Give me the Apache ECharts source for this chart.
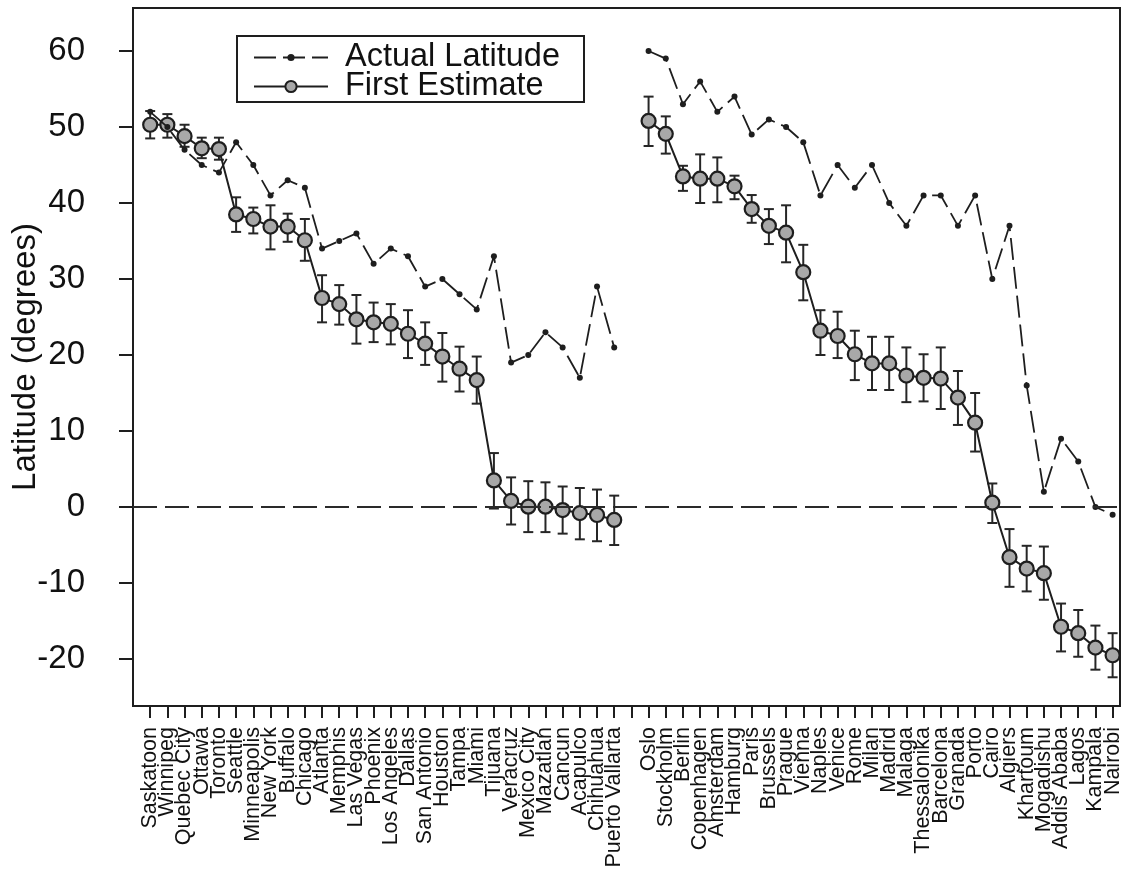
<!DOCTYPE html>
<html>
<head>
<meta charset="utf-8">
<script src="https://cdn.jsdelivr.net/npm/echarts@6/dist/echarts.min.js"></script>
<style>
  html, body { margin: 0; padding: 0; background: #fff; }
  #chart { width: 1122px; height: 873px; }
</style>
</head>
<body>
<div id="chart"></div>
<script>
// North American cities
const americasCities = ['Saskatoon', 'Winnipeg', 'Quebec City', 'Ottawa', 'Toronto', 'Seattle',
  'Minneapolis', 'New York', 'Buffalo', 'Chicago', 'Atlanta', 'Memphis', 'Las Vegas', 'Phoenix',
  'Los Angeles', 'Dallas', 'San Antonio', 'Houston', 'Tampa', 'Miami', 'Tijuana', 'Veracruz',
  'Mexico City', 'Mazatlan', 'Cancun', 'Acapulco', 'Chihuahua', 'Puerto Vallarta'];
const americasActual = [52, 50, 47, 45, 44, 48, 45, 41, 43, 42, 34, 35, 36, 32, 34, 33, 29, 30, 28, 26,
  33, 19, 20, 23, 21, 17, 29, 21];
const americasEstimate = [50.3, 50.3, 48.8, 47.2, 47.1, 38.5, 37.9, 36.9, 36.9, 35.1, 27.5, 26.7, 24.7,
  24.3, 24.1, 22.8, 21.5, 19.8, 18.2, 16.7, 3.5, 0.8, 0.05, 0.05, -0.4, -0.8, -1.05, -1.7];
const americasLow = [48.5, 48.6, 47.4, 45.9, 45.7, 36.2, 36.0, 33.9, 34.9, 32.4, 24.3, 24.0, 21.5, 21.7,
  21.4, 19.6, 18.7, 16.5, 15.2, 13.6, -0.2, -2.3, -3.3, -3.3, -3.5, -4.25, -4.5, -5.0];
const americasHigh = [52.1, 51.7, 50.3, 48.6, 48.6, 40.75, 39.4, 39.7, 38.6, 37.9, 30.5, 29.2, 27.9, 26.9,
  26.7, 25.9, 24.3, 22.9, 21.1, 19.8, 7.1, 3.9, 3.4, 3.25, 2.7, 2.5, 2.3, 1.5];

// European and African cities
const euroAfricaCities = ['Oslo', 'Stockholm', 'Berlin', 'Copenhagen', 'Amsterdam', 'Hamburg', 'Paris',
  'Brussels', 'Prague', 'Vienna', 'Naples', 'Venice', 'Rome', 'Milan', 'Madrid', 'Malaga',
  'Thessalonika', 'Barcelona', 'Granada', 'Porto', 'Cairo', 'Algiers', 'Khartoum', 'Mogadishu',
  'Addis Ababa', 'Lagos', 'Kampala', 'Nairobi'];
const euroAfricaActual = [60, 59, 53, 56, 52, 54, 49, 51, 50, 48, 41, 45, 42, 45, 40, 37, 41, 41, 37, 41,
  30, 37, 16, 2, 9, 6, 0, -1];
const euroAfricaEstimate = [50.8, 49.1, 43.5, 43.2, 43.2, 42.2, 39.2, 37.0, 36.1, 30.9, 23.2, 22.5, 20.1,
  18.9, 18.9, 17.3, 17.0, 16.9, 14.4, 11.1, 0.57, -6.6, -8.1, -8.7, -15.75, -16.6, -18.5, -19.5];
const euroAfricaLow = [47.5, 46.5, 41.6, 40.0, 40.1, 40.5, 37.4, 34.6, 32.2, 27.2, 20.0, 19.6, 16.7, 15.4,
  15.4, 13.8, 13.9, 12.9, 10.8, 7.3, -2.1, -10.5, -11.1, -12.2, -19.0, -19.7, -21.4, -22.4];
const euroAfricaHigh = [54.0, 51.4, 44.9, 46.4, 46.0, 43.6, 41.05, 39.2, 39.7, 34.5, 25.9, 25.7, 23.2, 22.4,
  22.4, 21.0, 20.1, 21.0, 17.9, 15.0, 3.1, -2.9, -5.1, -5.2, -12.7, -13.55, -15.6, -16.6];

const yTickValues = [-20, -10, 0, 10, 20, 30, 40, 50, 60];

// One empty slot separates the two city groups
const cities = americasCities.concat([''], euroAfricaCities);
const actual = americasActual.concat([null], euroAfricaActual);
const estimate = americasEstimate.concat([null], euroAfricaEstimate);
const low = americasLow.concat([null], euroAfricaLow);
const high = americasHigh.concat([null], euroAfricaHigh);

const X_MIN = -1;
const X_MAX = 56.43;
const xTickValues = cities.map((c, i) => i);
// blank labels at both ends keep the first and last city names from being dropped
const xLabelValues = [X_MIN].concat(xTickValues, [X_MAX]);

const toPairs = arr => arr.map((v, i) => [i, v == null ? '-' : v]);
const errorData = [];
low.forEach((lo, i) => { if (lo != null) errorData.push([i, lo, high[i]]); });

const FONT = "'Liberation Sans', Arial, Helvetica, sans-serif";
const INK = '#1e1e1e';

const chart = echarts.init(document.getElementById('chart'), null, { renderer: 'canvas' });

chart.setOption({
  animation: false,
  backgroundColor: '#ffffff',
  grid: {
    left: 133, right: 2, top: 8, bottom: 167,
    containLabel: false, outerBoundsMode: 'none',
    show: true, borderColor: INK, borderWidth: 2, backgroundColor: 'transparent'
  },
  legend: [
    {
      data: ['Actual Latitude'],
      left: 253, top: 41, padding: 0,
      itemWidth: 74, itemHeight: 9,
      textStyle: { fontFamily: FONT, fontSize: 32.5, color: '#111', padding: [0, 0, 0, 12] },
      selectedMode: false
    },
    {
      data: ['First Estimate'],
      left: 253, top: 70, padding: 0,
      itemWidth: 74, itemHeight: 14,
      textStyle: { fontFamily: FONT, fontSize: 32.5, color: '#111', padding: [0, 0, 0, 12] },
      selectedMode: false
    }
  ],
  graphic: [
    {
      type: 'rect', left: 236, top: 35, z: 10,
      shape: { width: 347, height: 66 },
      style: { fill: 'transparent', stroke: INK, lineWidth: 2 }
    }
  ],
  xAxis: {
    type: 'value', min: X_MIN, max: X_MAX,
    axisLine: { show: true, onZero: false, lineStyle: { color: INK, width: 2 } },
    axisTick: { show: true, customValues: xTickValues, length: 12, lineStyle: { color: INK, width: 2 } },
    axisLabel: {
      customValues: xLabelValues, rotate: 90, margin: 21,
      hideOverlap: false,
      fontFamily: FONT, fontSize: 21.5, color: '#111',
      formatter: v => (Number.isInteger(v) && cities[v]) ? cities[v] : ''
    },
    splitLine: { show: false }
  },
  yAxis: {
    type: 'value', min: -26.18, max: 65.66,
    name: 'Latitude (degrees)', nameLocation: 'middle', nameGap: 91, nameMoveOverlap: false,
    nameTextStyle: { fontFamily: FONT, fontSize: 33, color: '#111' },
    axisLine: { show: true, onZero: false, lineStyle: { color: INK, width: 2 } },
    axisTick: { show: true, customValues: yTickValues, length: 14, lineStyle: { color: INK, width: 2 } },
    axisLabel: {
      customValues: yTickValues, margin: 48, showMinLabel: true, showMaxLabel: true,
      fontFamily: FONT, fontSize: 33, color: '#111'
    },
    splitLine: { show: false }
  },
  series: [
    {
      name: 'Error',
      type: 'custom',
      z: 2,
      silent: true,
      encode: { x: 0, y: [1, 2] },
      data: errorData,
      renderItem: function (params, api) {
        const x = api.value(0);
        const p1 = api.coord([x, api.value(1)]);
        const p2 = api.coord([x, api.value(2)]);
        const cap = 5;
        const style = { stroke: '#262626', lineWidth: 2, fill: null };
        return {
          type: 'group',
          children: [
            { type: 'line', shape: { x1: p1[0], y1: p1[1], x2: p2[0], y2: p2[1] }, style: style },
            { type: 'line', shape: { x1: p1[0] - cap, y1: p1[1], x2: p1[0] + cap, y2: p1[1] }, style: style },
            { type: 'line', shape: { x1: p2[0] - cap, y1: p2[1], x2: p2[0] + cap, y2: p2[1] }, style: style }
          ]
        };
      }
    },
    {
      name: 'First Estimate',
      type: 'line',
      z: 3,
      data: toPairs(estimate),
      symbol: 'circle',
      symbolSize: 14,
      showAllSymbol: true,
      connectNulls: false,
      lineStyle: { color: INK, width: 2 },
      itemStyle: { color: '#a8a8a8', borderColor: '#1e1e1e', borderWidth: 2.2 },
      emphasis: { disabled: true },
      markLine: {
        silent: true,
        symbol: ['none', 'none'],
        label: { show: false },
        lineStyle: { color: '#2a2a2a', width: 2, type: [24, 8] },
        data: [{ yAxis: 0 }]
      }
    },
    {
      name: 'Actual Latitude',
      type: 'line',
      z: 4,
      data: toPairs(actual),
      symbol: 'circle',
      symbolSize: 6,
      showAllSymbol: true,
      connectNulls: false,
      lineStyle: { color: INK, width: 1.8, type: [22, 7] },
      itemStyle: { color: '#1e1e1e', borderWidth: 0 },
      emphasis: { disabled: true }
    }
  ]
});
</script>
</body>
</html>
